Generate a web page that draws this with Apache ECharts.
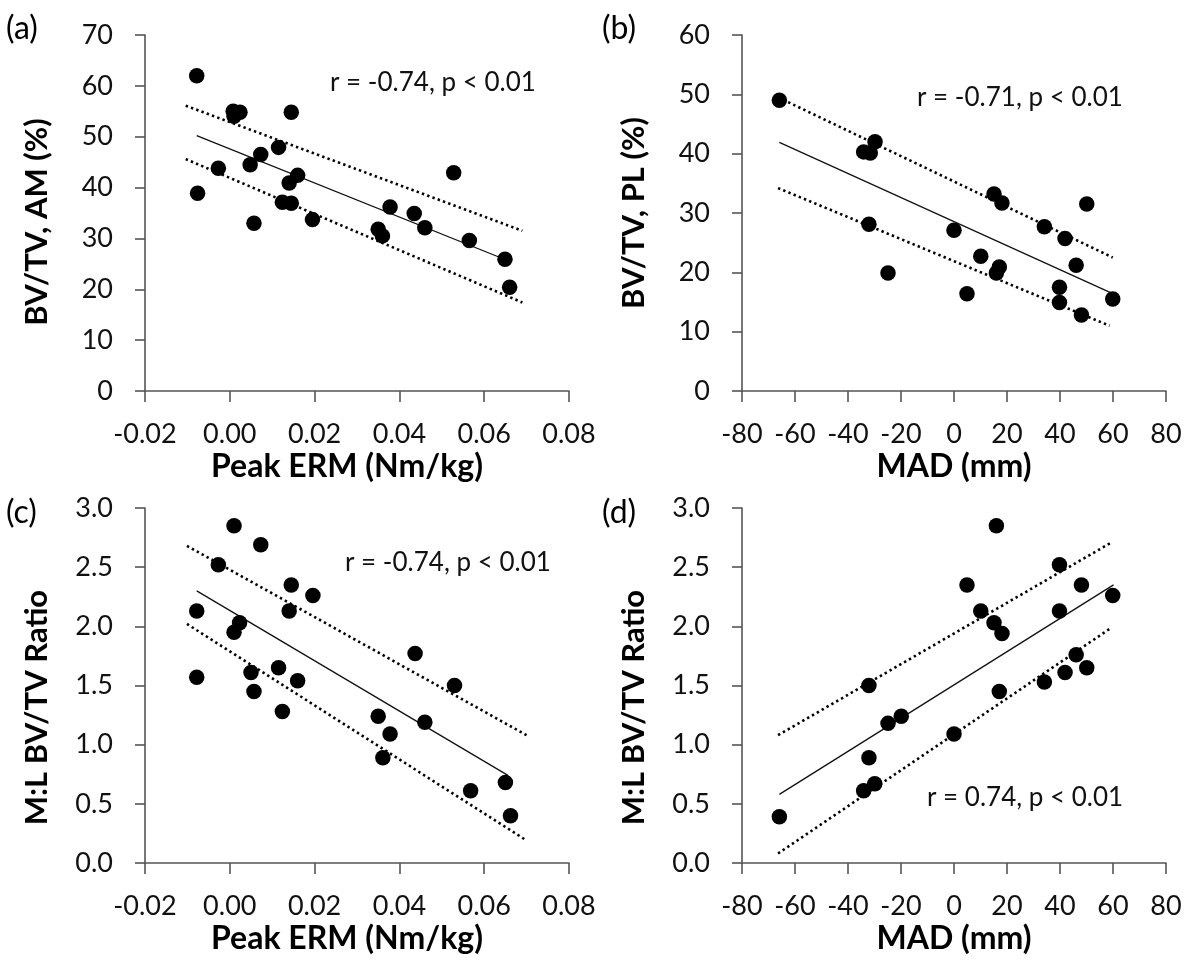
<!DOCTYPE html>
<html>
<head>
<meta charset="utf-8">
<script src="https://cdn.jsdelivr.net/npm/echarts@6/dist/echarts.min.js"></script>
<style>
  html, body { margin: 0; padding: 0; background: #fff; }
  #main { width: 1192px; height: 963px; }
</style>
</head>
<body>
<div id="main"></div>
<script>
// panel (a) and (c): Peak ERM
let ermA = [-0.0078, -0.0076, -0.0027, 0.0008, 0.0010, 0.0024, 0.0048, 0.0057, 0.0073, 0.0115, 0.0124, 0.0140, 0.0145, 0.0145, 0.0160, 0.0195, 0.0350, 0.0360, 0.0378, 0.0435, 0.0460, 0.0528, 0.0565, 0.0649, 0.0660];
let bvAM = [62.0, 38.9, 43.8, 55.0, 54.0, 54.8, 44.5, 33.0, 46.5, 47.9, 37.1, 40.9, 36.9, 54.8, 42.4, 33.7, 31.8, 30.5, 36.2, 34.9, 32.1, 42.9, 29.6, 25.9, 20.4];

let ermC = [-0.0078, -0.0078, -0.0027, 0.0010, 0.0010, 0.0023, 0.0050, 0.0057, 0.0073, 0.0115, 0.0124, 0.0140, 0.0145, 0.0160, 0.0196, 0.0350, 0.0361, 0.0378, 0.0437, 0.0460, 0.0530, 0.0568, 0.0650, 0.0662];
let ratioC = [2.13, 1.57, 2.52, 2.85, 1.95, 2.03, 1.61, 1.45, 2.69, 1.65, 1.28, 2.13, 2.35, 1.54, 2.26, 1.24, 0.89, 1.09, 1.77, 1.19, 1.50, 0.61, 0.68, 0.40];

// panel (b) and (d): MAD
let madB = [-65.9, -34.1, -31.6, -29.8, -32.1, -24.9, 0.0, 4.9, 10.1, 15.1, 18.1, 16.0, 17.1, 34.1, 41.9, 39.8, 39.8, 46.1, 48.1, 50.1, 59.9];
let bvPL = [49.0, 40.3, 40.1, 42.0, 28.1, 19.9, 27.1, 16.4, 22.7, 33.2, 31.7, 19.9, 20.9, 27.7, 25.7, 17.5, 14.9, 21.2, 12.8, 31.5, 15.5];

let madD = [-65.9, -34.1, -29.9, -32.1, -32.1, -24.9, -19.9, 0.0, 4.9, 10.1, 15.1, 16.0, 18.1, 17.1, 34.1, 39.8, 39.8, 41.9, 46.1, 48.1, 50.1, 59.9];
let ratioD = [0.39, 0.61, 0.67, 0.89, 1.50, 1.18, 1.24, 1.09, 2.35, 2.13, 2.03, 2.85, 1.94, 1.45, 1.53, 2.52, 2.13, 1.61, 1.76, 2.35, 1.65, 2.26];

// regression line and dotted bands, as [x, y] end points
let fitA = [[-0.0078, 50.2], [0.0636, 26.3]];
let hiA = [[-0.0104, 56.1], [0.0690, 31.5]];
let loA = [[-0.0104, 45.6], [0.0690, 17.4]];

let fitB = [[-65.9, 41.9], [59.9, 16.4]];
let hiB = [[-66.4, 49.5], [59.9, 22.5]];
let loB = [[-66.4, 34.2], [58.7, 11.0]];

let fitC = [[-0.0078, 2.30], [0.0656, 0.74]];
let hiC = [[-0.0101, 2.68], [0.0700, 1.08]];
let loC = [[-0.0101, 2.02], [0.0700, 0.19]];

let fitD = [[-65.9, 0.58], [60.2, 2.35]];
let hiD = [[-66.4, 1.08], [59.5, 2.71]];
let loD = [[-66.4, 0.08], [59.5, 1.99]];

let panelTags = ['(a)', '(b)', '(c)', '(d)'];
let statText = ['r = -0.74, p < 0.01', 'r = -0.71, p < 0.01', 'r = -0.74, p < 0.01', 'r = 0.74, p < 0.01'];

let FONT = 'Lato, "Open Sans", sans-serif';

function zip(xs, ys) {
  let out = [];
  for (let i = 0; i < xs.length; i++) out.push([xs[i], ys[i]]);
  return out;
}

function xAx(idx, isErm) {
  return {
    gridIndex: idx,
    type: 'value',
    min: isErm ? -0.02 : -80,
    max: isErm ? 0.08 : 80,
    interval: isErm ? 0.02 : 20,
    name: isErm ? 'Peak ERM (Nm/kg)' : 'MAD (mm)',
    nameLocation: 'middle',
    nameGap: 60,
    nameTextStyle: {
      fontFamily: FONT, fontWeight: 'bold', fontSize: 32, color: '#000',
      padding: isErm ? [0, 20, 0, 0] : 0
    },
    axisLine: { onZero: false, lineStyle: { color: '#555', width: 1.6 } },
    axisTick: { show: true, inside: false, length: 11, lineStyle: { color: '#555', width: 1.6 } },
    axisLabel: {
      fontFamily: FONT, fontSize: 27, color: '#111', margin: 30,
      formatter: function (v) { return isErm ? v.toFixed(2) : String(Math.round(v)); }
    },
    splitLine: { show: false }
  };
}

function yAx(idx, name, max, interval, digits, shift) {
  return {
    gridIndex: idx,
    type: 'value',
    min: 0,
    max: max,
    interval: interval,
    name: name,
    nameLocation: 'middle',
    nameGap: 93,
    nameRotate: 90,
    nameTextStyle: {
      fontFamily: FONT, fontWeight: 'bold', fontSize: 31, color: '#000',
      padding: [0, shift, 0, 0]
    },
    axisLine: { onZero: false, lineStyle: { color: '#555', width: 1.6 } },
    axisTick: { show: true, inside: false, length: 10, lineStyle: { color: '#555', width: 1.6 } },
    axisLabel: {
      fontFamily: FONT, fontSize: 27, color: '#111', margin: 32,
      formatter: function (v) { return v.toFixed(digits); }
    },
    splitLine: { show: false }
  };
}

function panelSeries(idx, pts, fit, hi, lo) {
  let dotted = { color: '#000', width: 2.6, type: [2.4, 3.2] };
  return [
    {
      type: 'line', xAxisIndex: idx, yAxisIndex: idx, data: fit,
      showSymbol: false, symbol: 'none', silent: true,
      lineStyle: { color: '#111', width: 1.3 }
    },
    {
      type: 'line', xAxisIndex: idx, yAxisIndex: idx, data: hi,
      showSymbol: false, symbol: 'none', silent: true, lineStyle: dotted
    },
    {
      type: 'line', xAxisIndex: idx, yAxisIndex: idx, data: lo,
      showSymbol: false, symbol: 'none', silent: true, lineStyle: dotted
    },
    {
      type: 'scatter', xAxisIndex: idx, yAxisIndex: idx, data: pts,
      symbolSize: 15.5, itemStyle: { color: '#000', opacity: 1 }, z: 5
    }
  ];
}

let tagPos = [[6, 13], [602, 13], [6, 497], [602, 497]];
let statPos = [[330, 70], [917, 85], [345, 550], [927, 785]];

let graphics = [];
for (let i = 0; i < 4; i++) {
  graphics.push({
    type: 'text', left: tagPos[i][0], top: tagPos[i][1],
    style: { text: panelTags[i], fontSize: 32, fontFamily: FONT, fill: '#000' }
  });
  graphics.push({
    type: 'text', left: statPos[i][0], top: statPos[i][1],
    style: { text: statText[i], fontSize: 26, fontFamily: FONT, fill: '#111' }
  });
}

let myChart = echarts.init(document.getElementById('main'), null, { renderer: 'canvas' });
myChart.setOption({
  backgroundColor: '#fff',
  animation: false,
  grid: [
    { left: 145, top: 35, width: 424, height: 356 },
    { left: 742, top: 35, width: 424, height: 356 },
    { left: 145, top: 508, width: 424, height: 355 },
    { left: 742, top: 508, width: 424, height: 355 }
  ],
  xAxis: [xAx(0, true), xAx(1, false), xAx(2, true), xAx(3, false)],
  yAxis: [
    yAx(0, 'BV/TV, AM (%)', 70, 10, 0, 18),
    yAx(1, 'BV/TV, PL (%)', 60, 10, 0, 0),
    yAx(2, 'M:L BV/TV Ratio', 3, 0.5, 1, 44),
    yAx(3, 'M:L BV/TV Ratio', 3, 0.5, 1, 44)
  ],
  graphic: graphics,
  series: [].concat(
    panelSeries(0, zip(ermA, bvAM), fitA, hiA, loA),
    panelSeries(1, zip(madB, bvPL), fitB, hiB, loB),
    panelSeries(2, zip(ermC, ratioC), fitC, hiC, loC),
    panelSeries(3, zip(madD, ratioD), fitD, hiD, loD)
  )
});
</script>
</body>
</html>
